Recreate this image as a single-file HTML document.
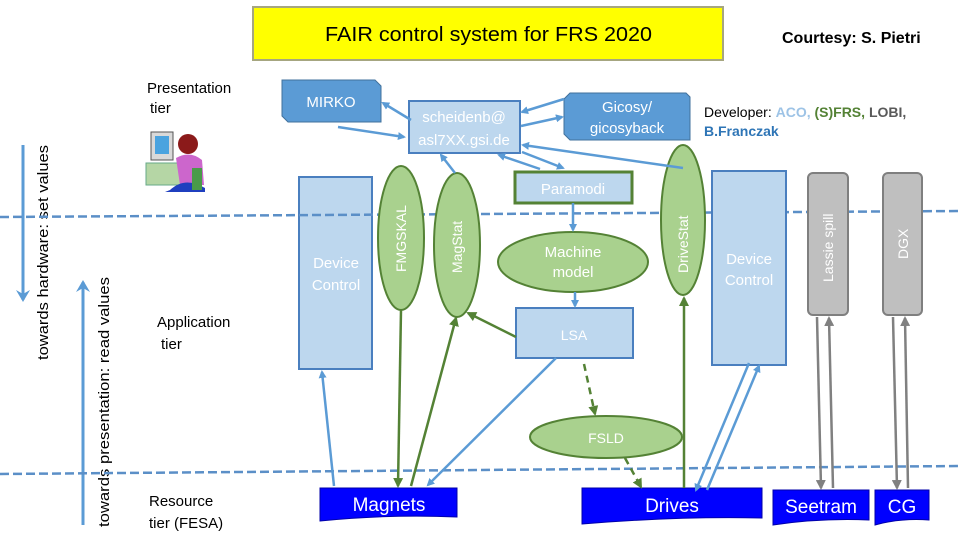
<!DOCTYPE html>
<html><head><meta charset="utf-8"><style>
html,body{margin:0;padding:0;background:#fff;}
svg{display:block;font-family:"Liberation Sans",sans-serif;}
</style></head><body>
<svg width="960" height="540" viewBox="0 0 960 540" xmlns="http://www.w3.org/2000/svg">
<defs>
<marker id="ab" markerWidth="8" markerHeight="8" refX="6" refY="4" orient="auto" markerUnits="userSpaceOnUse"><path d="M0,0 L8,4 L0,8 z" fill="#5b9bd5"/></marker>
<marker id="ag" markerWidth="10" markerHeight="10" refX="8" refY="5" orient="auto" markerUnits="userSpaceOnUse"><path d="M0,0 L10,5 L0,10 z" fill="#548235"/></marker>
<marker id="ay" markerWidth="10" markerHeight="10" refX="8" refY="5" orient="auto" markerUnits="userSpaceOnUse"><path d="M0,0 L10,5 L0,10 z" fill="#808080"/></marker>
<marker id="abig" markerWidth="14" markerHeight="14" refX="10" refY="7" orient="auto" markerUnits="userSpaceOnUse"><path d="M0,0 L12,7 L0,14 L4,7 z" fill="#5b9bd5"/></marker>
</defs>
<!-- title -->
<rect x="253" y="7" width="470" height="53" fill="#ffff00" stroke="#a6a680" stroke-width="2"/>
<text x="325" y="41" font-size="20" fill="#000" textLength="327" lengthAdjust="spacingAndGlyphs">FAIR control system for FRS 2020</text>
<text x="782" y="43" font-size="16" font-weight="bold" fill="#000">Courtesy: S. Pietri</text>
<!-- side arrows -->
<line x1="23" y1="145" x2="23" y2="300" stroke="#5b9bd5" stroke-width="3" marker-end="url(#abig)"/>
<text transform="translate(48,360) rotate(-90)" font-size="15" fill="#000" textLength="215" lengthAdjust="spacingAndGlyphs">towards hardware: set values</text>
<line x1="83" y1="525" x2="83" y2="282" stroke="#5b9bd5" stroke-width="3" marker-end="url(#abig)"/>
<text transform="translate(109,527) rotate(-90)" font-size="15" fill="#000" textLength="250" lengthAdjust="spacingAndGlyphs">towards presentation: read values</text>
<!-- tier labels -->
<text font-size="15" fill="#000"><tspan x="147" y="93">Presentation</tspan><tspan x="150" y="113">tier</tspan></text>
<text font-size="15" fill="#000"><tspan x="157" y="327">Application</tspan><tspan x="161" y="349">tier</tspan></text>
<text font-size="15" fill="#000"><tspan x="149" y="506">Resource</tspan><tspan x="149" y="528">tier  (FESA)</tspan></text>
<!-- clipart -->
<g>
<rect x="146" y="163" width="40" height="22" fill="#b5d6a5" stroke="#6a8" />
<rect x="151" y="132" width="22" height="28" fill="#d9d9d9" stroke="#555"/>
<rect x="155" y="136" width="14" height="18" fill="#4aa3df"/>
<circle cx="188" cy="144" r="10" fill="#8b1a1a"/>
<path d="M176,158 Q190,150 202,160 L204,185 L180,185 Z" fill="#cc66cc"/>
<path d="M170,190 Q185,176 205,188 L205,192 L165,192 Z" fill="#1f3fbf"/>
<rect x="192" y="168" width="10" height="22" fill="#4a9a4a"/>
</g>
<!-- MIRKO -->
<path d="M282,80 L375,80 L381,86 L381,122 L288,122 L282,116 Z" fill="#5b9bd5" stroke="#41719c"/>
<text x="331" y="107" font-size="15" fill="#fff" text-anchor="middle">MIRKO</text>
<!-- scheidenb -->
<rect x="409" y="101" width="111" height="52" fill="#bdd7ee" stroke="#4a7fbf" stroke-width="2"/>
<text font-size="15" fill="#fff" text-anchor="middle"><tspan x="464" y="122">scheidenb@</tspan><tspan x="464" y="145">asl7XX.gsi.de</tspan></text>
<!-- Gicosy -->
<path d="M570,93 L686,93 L690,97 L690,140 L570,140 L564,134 L564,99 Z" fill="#5b9bd5" stroke="#41719c"/>
<text font-size="15" fill="#fff" text-anchor="middle"><tspan x="627" y="112">Gicosy/</tspan><tspan x="627" y="133">gicosyback</tspan></text>
<!-- developer -->
<text x="704" y="117" font-size="14" fill="#000">Developer: <tspan fill="#9dc3e6" font-weight="bold">ACO,</tspan> <tspan fill="#548235" font-weight="bold">(S)FRS,</tspan> <tspan fill="#595959" font-weight="bold">LOBI,</tspan></text>
<text x="704" y="136" font-size="14" fill="#2e75b6" font-weight="bold">B.Franczak</text>
<!-- Device control left -->
<rect x="299" y="177" width="73" height="192" fill="#bdd7ee" stroke="#4a7fbf" stroke-width="2"/>
<text font-size="15" fill="#fff" text-anchor="middle"><tspan x="336" y="268">Device</tspan><tspan x="336" y="290">Control</tspan></text>
<!-- dashed lines -->
<line x1="0" y1="217" x2="960" y2="211" stroke="#5b8fc7" stroke-width="2.5" stroke-dasharray="9,4"/>
<line x1="0" y1="474" x2="960" y2="466" stroke="#5b8fc7" stroke-width="2.5" stroke-dasharray="9,4"/>
<!-- FMGSKAL / MagStat -->
<ellipse cx="401" cy="238" rx="23" ry="72" fill="#a9d18e" stroke="#548235" stroke-width="2"/>
<text transform="translate(406,272) rotate(-90)" font-size="14" fill="#fff">FMGSKAL</text>
<ellipse cx="457" cy="245" rx="23" ry="72" fill="#a9d18e" stroke="#548235" stroke-width="2"/>
<text transform="translate(462,273) rotate(-90)" font-size="14" fill="#fff">MagStat</text>
<!-- Paramodi -->
<rect x="515" y="172" width="117" height="31" fill="#bdd7ee" stroke="#548235" stroke-width="3"/>
<text x="573" y="194" font-size="15" fill="#fff" text-anchor="middle">Paramodi</text>
<!-- machine model -->
<ellipse cx="573" cy="262" rx="75" ry="30" fill="#a9d18e" stroke="#548235" stroke-width="2"/>
<text font-size="15" fill="#fff" text-anchor="middle"><tspan x="573" y="257">Machine</tspan><tspan x="573" y="277">model</tspan></text>
<!-- LSA -->
<rect x="516" y="308" width="117" height="50" fill="#bdd7ee" stroke="#4a7fbf" stroke-width="2"/>
<text x="574" y="340" font-size="14" fill="#fff" text-anchor="middle">LSA</text>
<!-- DriveStat -->
<ellipse cx="683" cy="220" rx="22" ry="75" fill="#a9d18e" stroke="#548235" stroke-width="2"/>
<text transform="translate(688,273) rotate(-90)" font-size="14" fill="#fff">DriveStat</text>
<!-- Device control right -->
<rect x="712" y="171" width="74" height="194" fill="#bdd7ee" stroke="#4a7fbf" stroke-width="2"/>
<text font-size="15" fill="#fff" text-anchor="middle"><tspan x="749" y="264">Device</tspan><tspan x="749" y="285">Control</tspan></text>
<!-- Lassie / DGX -->
<rect x="808" y="173" width="40" height="142" rx="5" fill="#bfbfbf" stroke="#7f7f7f" stroke-width="2"/>
<text transform="translate(833,282) rotate(-90)" font-size="14" fill="#fff">Lassie spill</text>
<rect x="883" y="173" width="39" height="142" rx="5" fill="#bfbfbf" stroke="#7f7f7f" stroke-width="2"/>
<text transform="translate(908,259) rotate(-90)" font-size="14" fill="#fff">DGX</text>
<!-- FSLD -->
<ellipse cx="606" cy="437" rx="76" ry="21" fill="#a9d18e" stroke="#548235" stroke-width="2"/>
<text x="606" y="443" font-size="14" fill="#fff" text-anchor="middle">FSLD</text>
<!-- hardware -->
<path d="M320,488 L457,488 L457,517 Q390,514 320,521 Z" fill="#0000ff" stroke="#0000aa"/>
<text x="389" y="511" font-size="19" fill="#fff" text-anchor="middle">Magnets</text>
<path d="M582,488 L762,488 L762,518 Q680,516 582,524 Z" fill="#0000ff" stroke="#0000aa"/>
<text x="672" y="512" font-size="19" fill="#fff" text-anchor="middle">Drives</text>
<path d="M773,490 L869,490 L869,520 Q820,518 773,525 Z" fill="#0000ff" stroke="#0000aa"/>
<text x="821" y="513" font-size="19" fill="#fff" text-anchor="middle">Seetram</text>
<path d="M875,490 L929,490 L929,520 Q900,518 875,525 Z" fill="#0000ff" stroke="#0000aa"/>
<text x="902" y="513" font-size="19" fill="#fff" text-anchor="middle">CG</text>
<!-- blue connectors -->
<g stroke="#5b9bd5" stroke-width="2.5" fill="none" marker-end="url(#ab)">
<line x1="411" y1="120" x2="383" y2="103"/>
<line x1="338" y1="127" x2="404" y2="137"/>
<line x1="564" y1="99" x2="522" y2="112"/>
<line x1="521" y1="126" x2="562" y2="117"/>
<line x1="455" y1="173" x2="441" y2="155"/>
<line x1="540" y1="169" x2="499" y2="155"/>
<line x1="522" y1="152" x2="563" y2="168"/>
<line x1="683" y1="168" x2="523" y2="145"/>
<line x1="573" y1="203" x2="573" y2="230"/>
<line x1="575" y1="292" x2="575" y2="306"/>
<line x1="334" y1="486" x2="322" y2="372"/>
<line x1="556" y1="358" x2="428" y2="485"/>
<line x1="749" y1="363" x2="696" y2="490"/>
<line x1="707" y1="490" x2="759" y2="366"/>
</g>
<!-- green connectors -->
<g stroke="#548235" stroke-width="2.5" fill="none" marker-end="url(#ag)">
<line x1="401" y1="310" x2="398" y2="486"/>
<line x1="411" y1="486" x2="456" y2="318"/>
<line x1="516" y1="337" x2="468" y2="313"/>
<line x1="684" y1="488" x2="684" y2="298"/>
<line x1="584" y1="364" x2="595" y2="414" stroke-dasharray="7,5"/>
<line x1="625" y1="458" x2="641" y2="487" stroke-dasharray="7,5"/>
</g>
<!-- gray connectors -->
<g stroke="#808080" stroke-width="2.5" fill="none" marker-end="url(#ay)">
<line x1="817" y1="317" x2="821" y2="488"/>
<line x1="833" y1="488" x2="829" y2="318"/>
<line x1="893" y1="317" x2="897" y2="488"/>
<line x1="908" y1="488" x2="905" y2="318"/>
</g>
</svg>
</body></html>
